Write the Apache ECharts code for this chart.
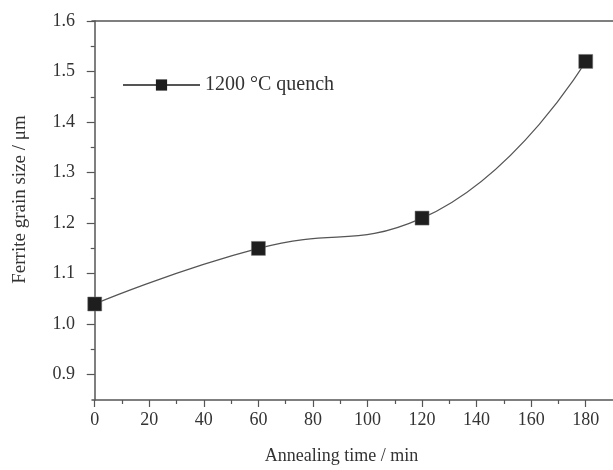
<!DOCTYPE html>
<html>
<head>
<meta charset="utf-8">
<script src="https://cdn.jsdelivr.net/npm/echarts@6/dist/echarts.min.js"></script>
<style>
  html, body { margin: 0; padding: 0; background: #fff; }
  #chart { width: 613px; height: 470px; }
</style>
</head>
<body>
<div id="chart"></div>
<script>
// data
var times = [0, 60, 120, 180];
var grainSize = [1.04, 1.15, 1.21, 1.52];
var xMajor = [0, 20, 40, 60, 80, 100, 120, 140, 160, 180];
var xMinor = [10, 30, 50, 70, 90, 110, 130, 150, 170];
var yMajor = [0.9, 1.0, 1.1, 1.2, 1.3, 1.4, 1.5, 1.6];
var yMinor = [0.95, 1.05, 1.15, 1.25, 1.35, 1.45, 1.55];

var font = "Liberation Serif";
var axisColor = "#555";
var textColor = "#333";

var chart = echarts.init(document.getElementById("chart"));

var points = times.map(function (t, i) { return [t, grainSize[i]]; });

var option = {
  backgroundColor: "#fff",
  animation: false,
  textStyle: { fontFamily: font },
  grid: { left: 92, right: 0, top: 21, bottom: 70, outerBoundsMode: "none" },
  legend: {
    left: 122,
    top: 75,
    padding: 0,
    itemWidth: 77,
    itemHeight: 14,
    itemStyle: { borderWidth: 0, color: "#1e1e1e" },
    textStyle: { fontFamily: font, fontSize: 20, color: textColor },
    data: ["1200 °C quench"]
  },
  xAxis: [
    {
      type: "value",
      position: "bottom",
      min: -1,
      max: 190,
      name: "Annealing time / min",
      nameLocation: "middle",
      nameGap: 47,
      nameTextStyle: { fontFamily: font, fontSize: 18, color: textColor, padding: [0, 22, 0, 0] },
      splitLine: { show: false },
      axisLine: { lineStyle: { color: axisColor, width: 1.5 } },
      axisTick: { customValues: xMajor, length: 7, lineStyle: { color: axisColor, width: 1.2 } },
      axisLabel: { customValues: xMajor, fontFamily: font, fontSize: 18, color: textColor, margin: 11 }
    },
    {
      // minor ticks
      type: "value",
      position: "bottom",
      min: -1,
      max: 190,
      splitLine: { show: false },
      axisLine: { show: false },
      axisTick: { customValues: xMinor, length: 4, lineStyle: { color: axisColor, width: 1.2 } },
      axisLabel: { show: false }
    },
    {
      // top frame
      type: "value",
      position: "top",
      min: -1,
      max: 190,
      splitLine: { show: false },
      axisLine: { lineStyle: { color: axisColor, width: 1.5 } },
      axisTick: { show: false },
      axisLabel: { show: false }
    }
  ],
  yAxis: [
    {
      type: "value",
      position: "left",
      min: 0.85,
      max: 1.6,
      name: "Ferrite grain size / μm",
      nameLocation: "middle",
      nameGap: 62,
      nameTextStyle: { fontFamily: font, fontSize: 19, color: textColor, padding: [0, 0, 0, 22] },
      splitLine: { show: false },
      axisLine: { show: true, lineStyle: { color: axisColor, width: 1.5 } },
      axisTick: { customValues: yMajor, length: 8, lineStyle: { color: axisColor, width: 1.2 } },
      axisLabel: {
        customValues: yMajor,
        fontFamily: font, fontSize: 18, color: textColor, margin: 17,
        formatter: function (v) { return v.toFixed(1); }
      }
    },
    {
      // minor ticks
      type: "value",
      position: "left",
      min: 0.85,
      max: 1.6,
      splitLine: { show: false },
      axisLine: { show: false },
      axisTick: { customValues: yMinor, length: 4, lineStyle: { color: axisColor, width: 1.2 } },
      axisLabel: { show: false }
    }
  ],
  series: [{
    name: "1200 °C quench",
    type: "line",
    xAxisIndex: 0,
    yAxisIndex: 0,
    data: points,
    smooth: 0.5,
    symbol: "rect",
    symbolSize: 14,
    itemStyle: { color: "#1e1e1e", borderColor: "#777", borderWidth: 0.5 },
    lineStyle: { color: "#555", width: 1.2 }
  }]
};

chart.setOption(option);
</script>
</body>
</html>
